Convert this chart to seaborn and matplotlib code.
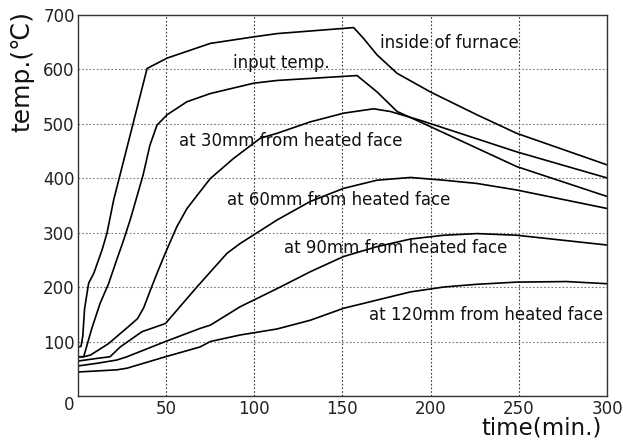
import matplotlib
matplotlib.use("Agg")
import matplotlib.pyplot as plt
import seaborn as sns
import pandas as pd

# Temperature histories (time in minutes, temperature in deg C)
furnace_t = [0, 2, 3, 4, 6.3, 9.2, 13.9, 16.7, 20.5, 39.4, 50.7, 75.2, 99.8, 113, 156.4, 162, 169.6, 181, 199.8, 226.2, 248.7, 300]
furnace_T = [90, 91, 110, 160, 207, 225, 268, 299, 360, 601, 620, 647, 659, 665, 676, 656, 626, 592, 558, 516, 482, 424]

input_t = [0, 3.5, 8.1, 12.8, 17.7, 22, 26, 30, 34, 37.1, 41, 45, 50.7, 62, 75.2, 99.8, 113, 158.3, 169.6, 181, 194, 248.7, 300]
input_T = [72, 72, 124, 170, 207, 248, 285, 325, 370, 405, 460, 497, 516, 540, 555, 574, 579, 588, 558, 522, 503, 421, 366]

mm30_t = [0, 3.3, 7.3, 17.5, 29.8, 34, 37.5, 41, 45, 49.7, 56.3, 62, 65.8, 75.2, 88.4, 103.5, 113, 131.8, 150.7, 167.7, 177.2, 194, 248.7, 300]
mm30_T = [72, 72, 75, 96, 130, 142, 162, 192, 225, 262, 311, 344, 360, 399, 436, 473, 482, 503, 519, 527, 522, 506, 448, 400]

mm60_t = [0, 11, 18.4, 24.2, 36.5, 49.8, 67.6, 84.7, 92.2, 113, 131.8, 150.7, 169.6, 188.5, 207.4, 226.2, 248.7, 300]
mm60_T = [64, 69, 72, 90, 118, 133, 200, 262, 280, 323, 357, 381, 396, 401, 396, 390, 378, 344]

mm90_t = [0, 11, 22.2, 28, 49.8, 69.4, 75.2, 92.2, 113, 131.8, 150.7, 169.6, 188.5, 207.4, 226.2, 248.7, 300]
mm90_T = [55, 60, 66, 72, 100, 124, 130, 164, 197, 228, 256, 274, 288, 295, 298, 295, 277]

mm120_t = [0, 22.2, 28, 49.8, 69.4, 75.2, 92.2, 113, 131.8, 150.7, 169.6, 188.5, 207.4, 226.2, 248.7, 277, 300]
mm120_T = [44, 48, 51, 72, 90, 100, 112, 123, 139, 161, 176, 191, 200, 205, 209, 210, 206]

series = [
    ("inside of furnace", furnace_t, furnace_T),
    ("input temp.", input_t, input_T),
    ("at 30mm from heated face", mm30_t, mm30_T),
    ("at 60mm from heated face", mm60_t, mm60_T),
    ("at 90mm from heated face", mm90_t, mm90_T),
    ("at 120mm from heated face", mm120_t, mm120_T),
]

# Label anchor points (time, temp) for each curve's annotation
label_pos = {
    "inside of furnace": (171.3, 648),
    "input temp.": (87.9, 611.6),
    "at 30mm from heated face": (57.3, 468),
    "at 60mm from heated face": (84.7, 360),
    "at 90mm from heated face": (116.8, 271),
    "at 120mm from heated face": (164.9, 148.6),
}

x_ticks = [50, 100, 150, 200, 250, 300]
y_ticks = [0, 100, 200, 300, 400, 500, 600, 700]

frames = [pd.DataFrame({"time": t, "temp": T, "curve": name}) for name, t, T in series]
df = pd.concat(frames, ignore_index=True)

sns.set_style("white")
plt.rcParams["font.family"] = ["DejaVu Sans", "Noto Sans CJK JP"]

fig = plt.figure(figsize=(6.23, 4.44), dpi=100)
ax = fig.add_axes([0.1244, 0.1081, 0.8504, 0.8592])

for name, _, _ in series:
    sns.lineplot(data=df[df["curve"] == name], x="time", y="temp", ax=ax,
                 color="black", linewidth=1.2, sort=False, estimator=None)

ax.set_xlim(0, 300)
ax.set_ylim(0, 700)
ax.set_xticks(x_ticks)
ax.set_yticks(y_ticks)
ax.set_xticklabels([str(v) for v in x_ticks])
ax.set_yticklabels([str(v) for v in y_ticks])
ax.tick_params(axis="both", length=0, labelsize=12, colors="#222222", pad=3)
ax.tick_params(axis="y", pad=2)
ax.get_yticklabels()[0].set_verticalalignment("top")

ax.xaxis.grid(True, color="#333333", linestyle=(0, (1.5, 1.8)), linewidth=0.8)
ax.yaxis.grid(True, color="#777777", linestyle=(0, (1.5, 1.8)), linewidth=0.8)
for sp in ax.spines.values():
    sp.set_visible(True)
    sp.set_color("#333333")
    sp.set_linewidth(1.0)

ax.set_xlabel("")
ax.set_ylabel("")

for name, (tx, ty) in label_pos.items():
    ax.text(tx, ty, name, fontsize=12, color="#111111", ha="left", va="center")

fig.text(22 / 623, 1 - 72 / 444, "temp.(℃)", rotation=90, fontsize=18,
         ha="center", va="center", color="#111111")
fig.text(541.5 / 623, 1 - 428 / 444, "time(min.)", fontsize=16.5,
         ha="center", va="center", color="#111111")

fig.savefig("out.png", dpi=100)
